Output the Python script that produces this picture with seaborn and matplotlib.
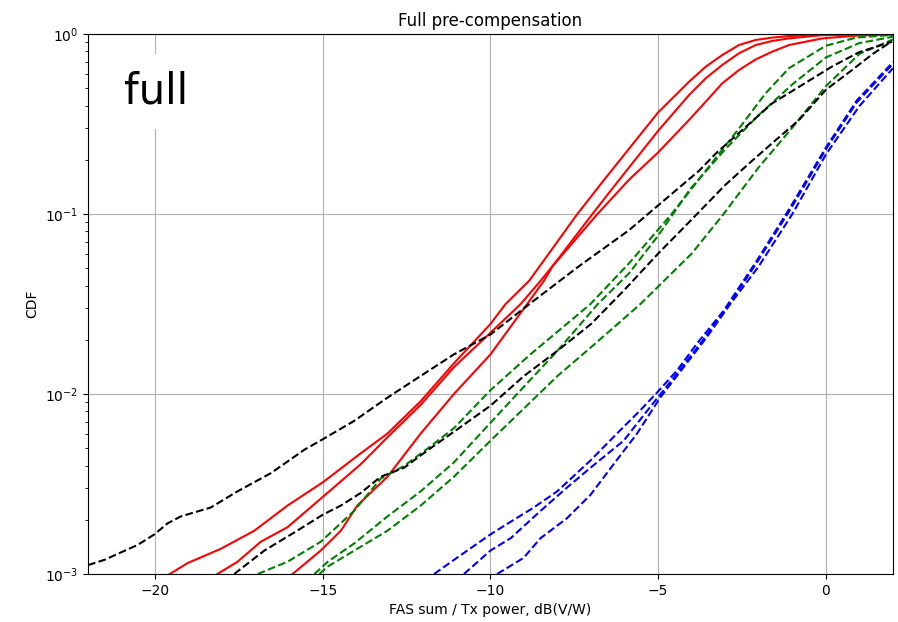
import matplotlib
matplotlib.use('Agg')
import matplotlib.pyplot as plt
import seaborn as sns

# Curves (x in dB(V/W), y = CDF value)
# red solid
red1_x = [-19.56, -19.03, -18.04, -17.04, -16.05, -14.99, -13.87, -13.07, -12.08, -11.09, -10.0, -9.55,
          -8.84, -7.41, -6.61, -5.0, -4.08, -3.58, -3.09, -2.59, -2.09, -1.6, -1.10, -0.1, 2.0]
red1_y = [0.00100, 0.00115, 0.00138, 0.00174, 0.00240, 0.00324, 0.00468, 0.00603, 0.00912, 0.0148, 0.0245, 0.0316,
          0.0427, 0.100, 0.155, 0.367, 0.543, 0.659, 0.764, 0.869, 0.927, 0.955, 0.975, 0.991, 1.0]

red2_x = [-18.14, -17.54, -16.85, -16.05, -14.99, -13.87, -13.07, -12.08, -11.09, -10.0, -9.1, -8.50, -8.15,
          -6.81, -5.87, -5.0, -4.08, -3.58, -3.09, -2.59, -2.09, -1.6, -1.1, -0.1, 0.9, 2.0]
red2_y = [0.00100, 0.00117, 0.00151, 0.00182, 0.00269, 0.00407, 0.00575, 0.00871, 0.0141, 0.0219, 0.0316, 0.0427, 0.0513,
          0.100, 0.155, 0.220, 0.333, 0.421, 0.532, 0.631, 0.723, 0.798, 0.869, 0.946, 0.979, 0.993]

red3_x = [-15.9, -15.06, -14.46, -13.97, -13.07, -12.08, -11.09, -10.0, -9.1, -8.40, -8.15, -6.96, -6.16,
          -5.0, -4.08, -3.58, -3.09, -2.59, -2.09, -1.6, -1.1, -0.1, 2.0]
red3_y = [0.00100, 0.00135, 0.00174, 0.00240, 0.00347, 0.00603, 0.0100, 0.0166, 0.0282, 0.0427, 0.0513, 0.100, 0.155,
          0.290, 0.458, 0.568, 0.673, 0.782, 0.869, 0.915, 0.946, 0.986, 0.999]

# green dashed
green1_x = [-16.94, -16.05, -15.06, -14.07, -13.27, -12.58, -11.78, -11.09, -10.0, -8.81, -7.02, -5.87, -4.6,
            -3.29, -2.49, -1.80, -1.10, 0.0, 0.9, 2.0]
green1_y = [0.00100, 0.00117, 0.00151, 0.00224, 0.00339, 0.00398, 0.00513, 0.00646, 0.0105, 0.0166, 0.0316, 0.0532, 0.100,
            0.204, 0.316, 0.468, 0.646, 0.861, 0.955, 0.989]

green2_x = [-15.25, -14.85, -14.06, -13.07, -12.08, -11.09, -10.0, -9.0, -8.0, -6.8, -5.87, -5.0, -4.04,
            -3.0, -2.0, -1.0, 0.0, 1.0, 2.0]
green2_y = [0.00100, 0.00117, 0.00148, 0.00209, 0.00288, 0.00417, 0.00692, 0.0110, 0.0174, 0.0316, 0.0468, 0.0759, 0.138,
            0.229, 0.355, 0.525, 0.741, 0.891, 0.966]

green3_x = [-15.1, -14.85, -14.06, -13.07, -12.08, -11.09, -10.0, -9.0, -8.0, -7.0, -5.53, -4.0, -3.05,
            -2.0, -1.0, 0.0, 1.0, 2.0]
green3_y = [0.00100, 0.00110, 0.00135, 0.00174, 0.00240, 0.00347, 0.00550, 0.00832, 0.0126, 0.0182, 0.0316, 0.0603, 0.100,
            0.182, 0.302, 0.513, 0.776, 0.933]

# black dashed
black1_x = [-22.0, -21.5, -21.01, -20.52, -20.02, -19.63, -19.23, -18.34, -17.54, -16.55, -15.55, -14.99, -14.07,
            -13.07, -12.08, -11.09, -10.0, -8.84, -7.36, -5.87, -5.17, -3.78, -3.28, -1.6, 0.19, 1.0, 1.97]
black1_y = [0.00112, 0.00120, 0.00132, 0.00145, 0.00166, 0.00191, 0.00209, 0.00234, 0.00288, 0.00363, 0.00490, 0.00562, 0.00708,
            0.00955, 0.0126, 0.0166, 0.0214, 0.0316, 0.0513, 0.0813, 0.105, 0.174, 0.217, 0.412, 0.661, 0.794, 0.906]

black2_x = [-17.64, -16.74, -15.85, -14.99, -14.46, -13.87, -13.27, -12.58, -11.78, -11.09, -10.0, -9.0, -8.0,
            -7.0, -6.0, -5.0, -4.0, -3.0, -2.29, -1.5, -0.8, 0.0, 0.78, 1.4, 1.97]
black2_y = [0.00100, 0.00135, 0.00170, 0.00214, 0.00240, 0.00282, 0.00347, 0.00389, 0.00501, 0.00617, 0.00861, 0.0126, 0.0174,
            0.0245, 0.0380, 0.0603, 0.0933, 0.145, 0.191, 0.257, 0.333, 0.490, 0.631, 0.776, 0.912]

# blue dashed
blue1_x = [-11.68, -11.0, -10.0, -9.40, -8.71, -8.01, -7.02, -6.23, -5.53, -5.03, -4.44, -3.84, -3.05,
           -2.06, -1.06, 0.0, 0.92, 2.0]
blue1_y = [0.00100, 0.00123, 0.00166, 0.00195, 0.00234, 0.00288, 0.00427, 0.00603, 0.00813, 0.0102, 0.0135, 0.0191, 0.0290,
           0.0550, 0.109, 0.234, 0.427, 0.698]

blue2_x = [-10.79, -10.0, -9.40, -8.51, -7.72, -7.02, -6.03, -5.23, -4.54, -3.74, -2.95, -2.06, -1.06, 0.0, 0.92, 2.0]
blue2_y = [0.00100, 0.00135, 0.00158, 0.00224, 0.00302, 0.00389, 0.00550, 0.00851, 0.0123, 0.0191, 0.0302, 0.0537, 0.106,
           0.229, 0.417, 0.684]

blue3_x = [-9.80, -9.01, -8.51, -7.72, -7.02, -6.33, -5.63, -4.94, -4.24, -3.55, -2.85, -2.0, -1.0, 0.0, 1.0, 2.0]
blue3_y = [0.00100, 0.00123, 0.00158, 0.00204, 0.00275, 0.00407, 0.00603, 0.00955, 0.0141, 0.0207, 0.0316, 0.0513, 0.100,
           0.214, 0.398, 0.646]

curves = [
    (red1_x, red1_y, 'r', '-'),
    (red2_x, red2_y, 'r', '-'),
    (red3_x, red3_y, 'r', '-'),
    (green1_x, green1_y, 'g', '--'),
    (green2_x, green2_y, 'g', '--'),
    (green3_x, green3_y, 'g', '--'),
    (black1_x, black1_y, 'k', '--'),
    (black2_x, black2_y, 'k', '--'),
    (blue1_x, blue1_y, 'b', '--'),
    (blue2_x, blue2_y, 'b', '--'),
    (blue3_x, blue3_y, 'b', '--'),
]

fig, ax = plt.subplots(figsize=(8.98, 6.22), dpi=100)
fig.subplots_adjust(left=0.098, right=0.9944, bottom=0.0772, top=0.9453)

for xs, ys, col, ls in curves:
    sns.lineplot(x=xs, y=ys, color=col, linestyle=ls, linewidth=1.5,
                 estimator=None, sort=False, ax=ax)

ax.set_yscale('log')
ax.set_xlim(-22, 2)
ax.set_ylim(1e-3, 1)
ax.grid(True)
ax.set_title('Full pre-compensation')
ax.set_xlabel('FAS sum / Tx power, dB(V/W)')
ax.set_ylabel('CDF')

# label box in the upper-left corner
ax.text(0.045, 0.893, 'full', transform=ax.transAxes, fontsize=30, ha='left', va='center',
        bbox=dict(boxstyle='square,pad=0.4', facecolor='white', edgecolor='none'))

fig.savefig('out.png', dpi=100)
